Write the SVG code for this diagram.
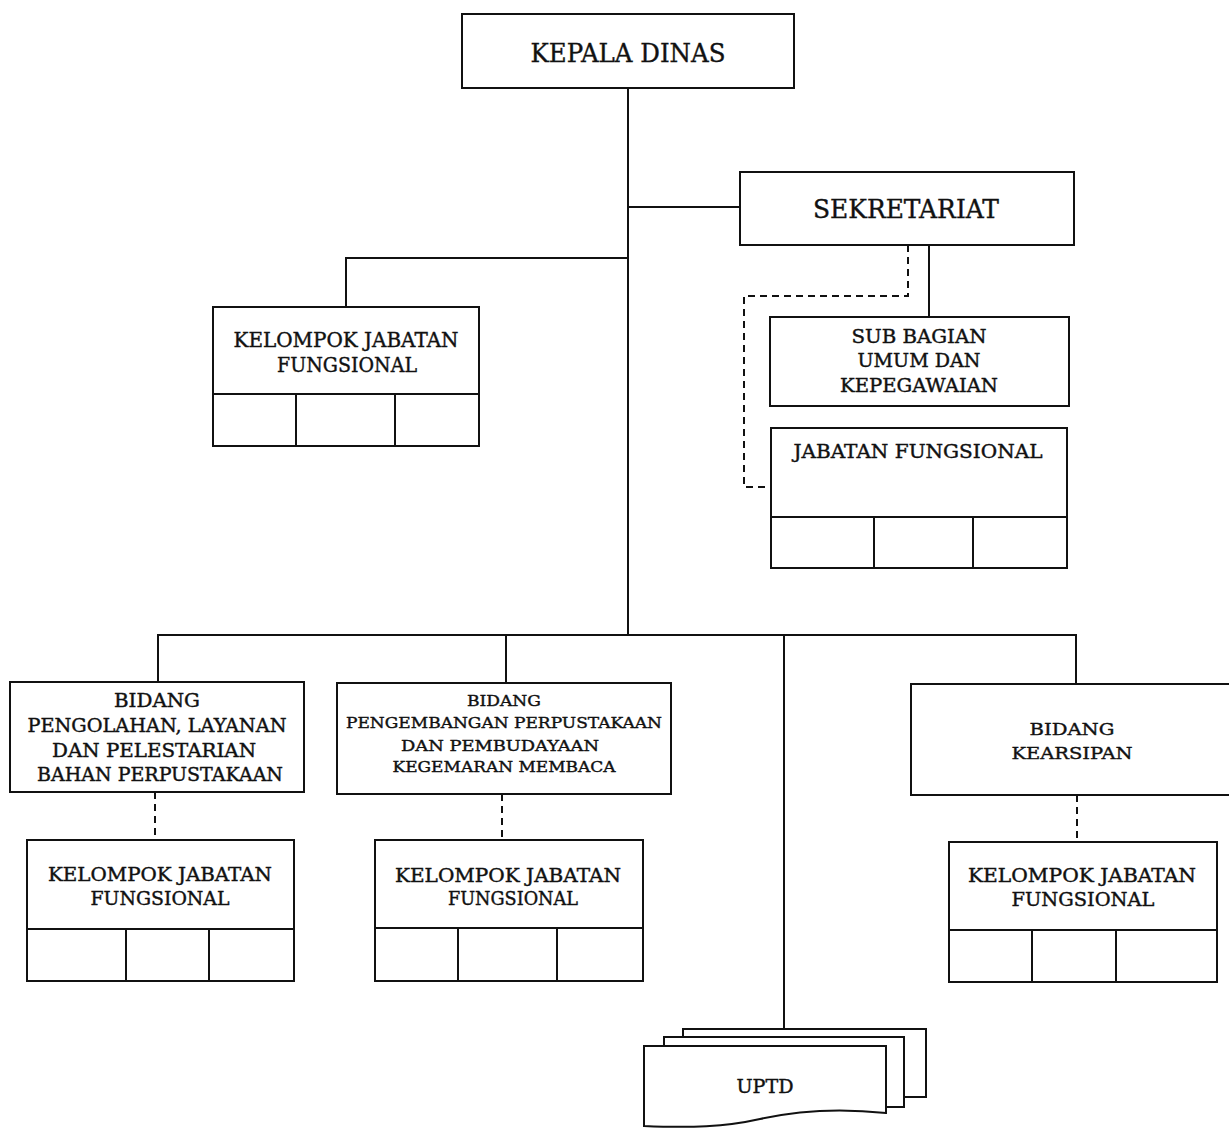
<svg xmlns="http://www.w3.org/2000/svg" width="1229" height="1128" viewBox="0 0 1229 1128">
<style>
.b{fill:#fff;stroke:#111;stroke-width:2}
.l{fill:none;stroke:#111;stroke-width:2}
.d{fill:none;stroke:#111;stroke-width:2;stroke-dasharray:7 5}
text{font-family:"DejaVu Serif","Liberation Serif",serif;fill:#111;stroke:#111;stroke-width:0.4;text-anchor:middle}
</style>
<rect width="1229" height="1128" fill="#fff"/>
<g id="connectors">
<path class="l" d="M628,88 V635"/>
<path class="l" d="M628,207 H740"/>
<path class="l" d="M628,258 H346 V307"/>
<path class="l" d="M158,682 V635 H1076 V684"/>
<path class="l" d="M506,635 V683"/>
<path class="l" d="M784,635 V1029"/>
<path class="l" d="M929,245 V317"/>
<path class="d" d="M908,245 V296 H744 V487 H771"/>
<path class="d" d="M155,792 V840"/>
<path class="d" d="M502,794 V840"/>
<path class="d" d="M1077,795 V842"/>
</g>
<g id="kepala">
<rect class="b" x="462" y="14" width="332" height="74"/>
<text x="628" y="62" font-size="26" textLength="195" lengthAdjust="spacingAndGlyphs">KEPALA DINAS</text>
</g>
<g id="sekretariat">
<rect class="b" x="740" y="172" width="334" height="73"/>
<text x="906" y="218" font-size="26" textLength="186" lengthAdjust="spacingAndGlyphs">SEKRETARIAT</text>
</g>
<g id="kjf-top">
<rect class="b" x="213" y="307" width="266" height="139"/>
<path class="l" d="M213,394 H479 M296,394 V446 M395,394 V446"/>
<text x="346" y="347" font-size="20" textLength="225" lengthAdjust="spacingAndGlyphs">KELOMPOK JABATAN</text>
<text x="347" y="372" font-size="20" textLength="140" lengthAdjust="spacingAndGlyphs">FUNGSIONAL</text>
</g>
<g id="subbag">
<rect class="b" x="770" y="317" width="299" height="89"/>
<text x="919" y="343" font-size="18" textLength="135" lengthAdjust="spacingAndGlyphs">SUB BAGIAN</text>
<text x="919" y="367" font-size="18" textLength="123" lengthAdjust="spacingAndGlyphs">UMUM DAN</text>
<text x="919" y="392" font-size="18" textLength="158" lengthAdjust="spacingAndGlyphs">KEPEGAWAIAN</text>
</g>
<g id="jf-sek">
<rect class="b" x="771" y="428" width="296" height="140"/>
<path class="l" d="M771,517 H1067 M874,517 V568 M973,517 V568"/>
<text x="918" y="458" font-size="18" textLength="249" lengthAdjust="spacingAndGlyphs">JABATAN FUNGSIONAL</text>
</g>
<g id="bidang1">
<rect class="b" x="10" y="682" width="294" height="110"/>
<text x="157" y="707" font-size="18" textLength="86" lengthAdjust="spacingAndGlyphs">BIDANG</text>
<text x="157" y="732" font-size="18" textLength="259" lengthAdjust="spacingAndGlyphs">PENGOLAHAN, LAYANAN</text>
<text x="154" y="757" font-size="18" textLength="204" lengthAdjust="spacingAndGlyphs">DAN PELESTARIAN</text>
<text x="160" y="781" font-size="18" textLength="246" lengthAdjust="spacingAndGlyphs">BAHAN PERPUSTAKAAN</text>
</g>
<g id="kjf1">
<rect class="b" x="27" y="840" width="267" height="141"/>
<path class="l" d="M27,929 H294 M126,929 V981 M209,929 V981"/>
<text x="160" y="881" font-size="18" textLength="224" lengthAdjust="spacingAndGlyphs">KELOMPOK JABATAN</text>
<text x="160" y="905" font-size="18" textLength="139" lengthAdjust="spacingAndGlyphs">FUNGSIONAL</text>
</g>
<g id="bidang2">
<rect class="b" x="337" y="683" width="334" height="111"/>
<text x="504" y="706" font-size="15" textLength="74" lengthAdjust="spacingAndGlyphs">BIDANG</text>
<text x="504" y="728" font-size="15" textLength="316" lengthAdjust="spacingAndGlyphs">PENGEMBANGAN PERPUSTAKAAN</text>
<text x="500" y="751" font-size="15" textLength="198" lengthAdjust="spacingAndGlyphs">DAN PEMBUDAYAAN</text>
<text x="504" y="772" font-size="15" textLength="223" lengthAdjust="spacingAndGlyphs">KEGEMARAN MEMBACA</text>
</g>
<g id="kjf2">
<rect class="b" x="375" y="840" width="268" height="141"/>
<path class="l" d="M375,928 H643 M458,928 V981 M557,928 V981"/>
<text x="508" y="882" font-size="18" textLength="226" lengthAdjust="spacingAndGlyphs">KELOMPOK JABATAN</text>
<text x="513" y="905" font-size="18" textLength="130" lengthAdjust="spacingAndGlyphs">FUNGSIONAL</text>
</g>
<g id="bidang3">
<rect class="b" x="911" y="684" width="330" height="111"/>
<text x="1072" y="735" font-size="17" textLength="85" lengthAdjust="spacingAndGlyphs">BIDANG</text>
<text x="1072" y="759" font-size="17" textLength="121" lengthAdjust="spacingAndGlyphs">KEARSIPAN</text>
</g>
<g id="kjf3">
<rect class="b" x="949" y="842" width="268" height="140"/>
<path class="l" d="M949,930 H1217 M1032,930 V982 M1116,930 V982"/>
<text x="1082" y="882" font-size="18" textLength="228" lengthAdjust="spacingAndGlyphs">KELOMPOK JABATAN</text>
<text x="1083" y="906" font-size="18" textLength="143" lengthAdjust="spacingAndGlyphs">FUNGSIONAL</text>
</g>
<g id="uptd">
<rect class="b" x="683" y="1029" width="243" height="68"/>
<rect class="b" x="664" y="1037" width="240" height="70"/>
<path class="b" d="M644,1046 H886 V1113 C840,1108 800,1110 760,1119 C725,1127 690,1128 644,1126 Z"/>
<text x="765" y="1093" font-size="18" textLength="57" lengthAdjust="spacingAndGlyphs">UPTD</text>
</g>
</svg>
